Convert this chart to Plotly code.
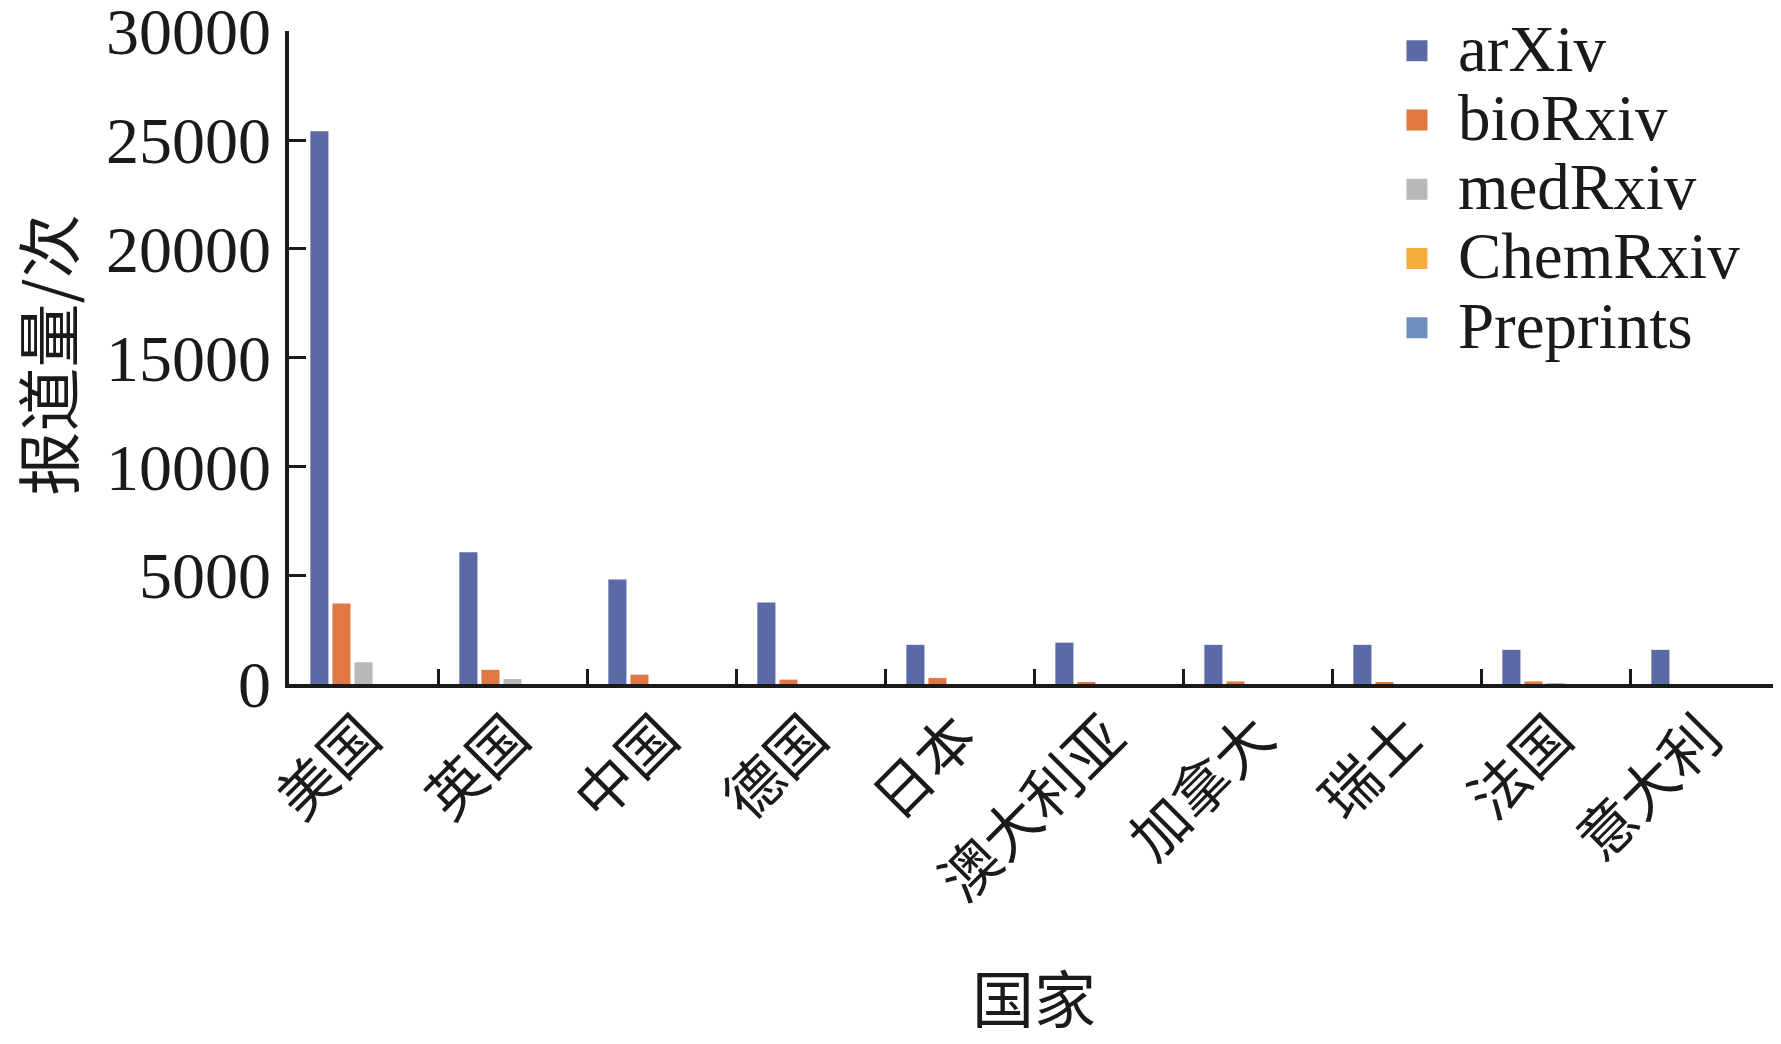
import plotly.graph_objects as go

countries = ['美国', '英国', '中国', '德国', '日本', '澳大利亚', '加拿大', '瑞士', '法国', '意大利']
arxiv = [25400, 6050, 4800, 3750, 1800, 1900, 1800, 1800, 1570, 1570]
biorxiv = [3700, 650, 430, 200, 280, 60, 120, 60, 120, 0]
medrxiv = [1000, 230, 0, 0, 0, 0, 0, 0, 40, 0]
chemrxiv = [0, 0, 0, 0, 0, 0, 0, 0, 0, 0]
preprints = [0, 0, 0, 0, 0, 0, 0, 0, 0, 0]

series_names = ['arXiv', 'bioRxiv', 'medRxiv', 'ChemRxiv', 'Preprints']
series_values = [arxiv, biorxiv, medrxiv, chemrxiv, preprints]
colors = ['#5b6aa6', '#e07843', '#b8b8b8', '#f2ad3c', '#6f90bf']
y_ticks = [0, 5000, 10000, 15000, 20000, 25000, 30000]
x_title = '国家'
y_title = '报道量/次'

SERIF = 'Liberation Serif, Times New Roman, Noto Sans CJK SC, serif'
CJK = 'Noto Sans CJK SC, Liberation Serif, serif'
INK = '#1a1a1a'

fig = go.Figure()
for name, vals, col in zip(series_names, series_values, colors):
    fig.add_trace(go.Bar(x=countries, y=vals, name=name, marker=dict(color=col, line=dict(width=0)),
                         showlegend=False))
    fig.add_trace(go.Scatter(x=[None], y=[None], mode='markers',
                             name='<span style="font-size:65px">%s</span>' % name,
                             marker=dict(symbol='square', size=16, color=col,
                                         line=dict(width=5, color=col))))

fig.update_layout(
    width=1773, height=1036,
    margin=dict(l=281, r=2, t=23, b=360, autoexpand=False),
    paper_bgcolor='white', plot_bgcolor='white',
    barmode='group', bargap=0.26, bargroupgap=0.18,
    font=dict(family=SERIF, color=INK),
    legend=dict(x=0.7295, y=1.0306, xanchor='left', yanchor='top',
                font=dict(family=SERIF, size=51, color=INK),
                bgcolor='rgba(0,0,0,0)', itemsizing='trace', itemwidth=72),
)

fig.add_annotation(text=y_title, xref='paper', yref='paper', x=-0.1635, y=0.5038,
                   xanchor='center', yanchor='middle', textangle=-90, showarrow=False,
                   font=dict(family=CJK, size=64, color=INK))

fig.update_xaxes(
    type='category', showline=True, linecolor=INK, linewidth=3.5,
    ticks='inside', tickson='boundaries', ticklen=15, tickwidth=3, tickcolor=INK,
    tickangle=-45, tickfont=dict(family=CJK, size=58, color=INK), ticklabelstandoff=-8,
    showgrid=False, zeroline=False, automargin=False,
    title=dict(text=x_title, font=dict(family=CJK, size=62, color=INK), standoff=65),
)
fig.update_yaxes(
    range=[0, 30010], tickvals=y_ticks, ticktext=[str(v) for v in y_ticks],
    showline=True, linecolor=INK, linewidth=3.5,
    ticks='inside', ticklen=17, tickwidth=3, tickcolor=INK,
    tickfont=dict(family=SERIF, size=66, color=INK), ticklabelstandoff=1,
    ticklabeloverflow='allow',
    showgrid=False, zeroline=False, automargin=False,
)

fig.write_html('out.html')
